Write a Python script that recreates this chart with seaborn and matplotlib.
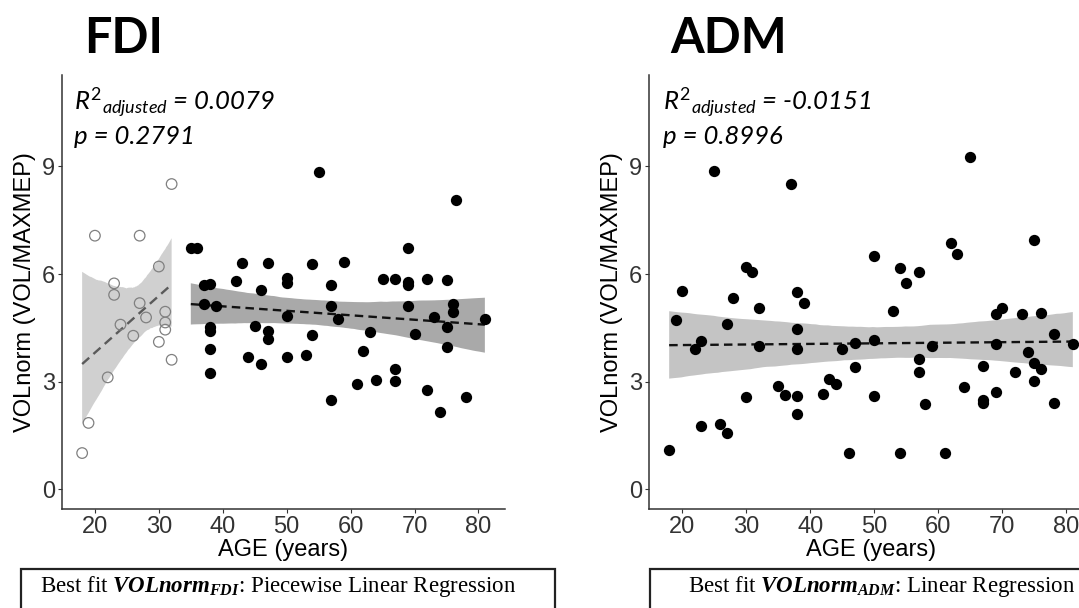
import numpy as np
import pandas as pd
import matplotlib
matplotlib.use("Agg")
import matplotlib.pyplot as plt
import seaborn as sns
from matplotlib.patches import Rectangle
from matplotlib.collections import PolyCollection

# ---------------- data ----------------
fdi_young_age = [20, 27, 32, 30, 23, 23, 27, 31, 28, 31, 31, 24, 26, 30, 32, 22, 19, 18]
fdi_young_vol = [7.07, 7.07, 8.51, 6.21, 5.74, 5.42, 5.19, 4.95, 4.79, 4.65, 4.45, 4.59,
                 4.28, 4.11, 3.61, 3.12, 1.85, 1.01]

fdi_old_age = [35, 36, 43, 47, 54, 59, 69, 55, 76.5,
               37, 38, 42, 50, 50, 46, 57, 65, 67, 69, 69, 72, 75,
               37, 39, 50, 57, 58, 69, 76, 76, 73, 81,
               75, 38, 38, 45, 47, 47, 54, 63, 70, 75,
               38, 44, 46, 50, 53, 62, 38, 67, 67, 64, 61, 72, 57, 78, 74]
fdi_old_vol = [6.73, 6.73, 6.31, 6.31, 6.29, 6.34, 6.73, 8.84, 8.07,
               5.70, 5.73, 5.81, 5.90, 5.75, 5.56, 5.69, 5.87, 5.85, 5.78, 5.69, 5.85, 5.83,
               5.17, 5.10, 4.84, 5.10, 4.75, 5.10, 5.16, 4.93, 4.81, 4.75,
               4.52, 4.52, 4.40, 4.54, 4.42, 4.20, 4.29, 4.39, 4.32, 3.98,
               3.92, 3.68, 3.49, 3.68, 3.75, 3.86, 3.23, 3.36, 3.02, 3.05, 2.94, 2.77, 2.50, 2.58, 2.15]

adm_age = [25, 37, 65, 62, 63, 75, 50, 30, 31, 54, 57, 55, 20, 28, 38, 39, 32, 53,
           69, 70, 73, 76, 19, 27, 38, 22, 23, 32, 38, 45, 47, 50, 59, 69, 78, 81,
           57, 57, 47, 67, 74, 75, 76, 72, 75, 43, 44, 35, 36, 38, 42, 30, 50, 64,
           69, 67, 67, 58, 78, 38, 23, 26, 27, 18, 46, 54, 61]
adm_vol = [8.87, 8.52, 9.26, 6.86, 6.55, 6.94, 6.50, 6.20, 6.05, 6.17, 6.05, 5.76, 5.52, 5.32,
           5.50, 5.20, 5.04, 4.97, 4.88, 5.06, 4.88, 4.91, 4.71, 4.60, 4.48, 3.91, 4.14, 3.99,
           3.90, 3.90, 4.07, 4.16, 3.99, 4.04, 4.34, 4.04, 3.63, 3.27, 3.40, 3.45, 3.82, 3.51,
           3.36, 3.26, 3.03, 3.07, 2.93, 2.88, 2.63, 2.61, 2.67, 2.57, 2.60, 2.86, 2.72, 2.49,
           2.40, 2.39, 2.40, 2.10, 1.77, 1.81, 1.56, 1.10, 1.01, 1.01, 1.01]

x_ticks = [20, 30, 40, 50, 60, 70, 80]
y_ticks = [0, 3, 6, 9]
panel_titles = ["FDI", "ADM"]
r2_values = ["0.0079", "-0.0151"]
p_values = ["0.2791", "0.8996"]
fit_subscripts = ["FDI", "ADM"]
fit_names = ["Piecewise Linear Regression", "Linear Regression"]
x_label = "AGE (years)"
y_label = "VOLnorm (VOL/MAXMEP)"

# ---------------- style ----------------
sns.set_style("white")
plt.rcParams["font.family"] = ["Liberation Sans", "DejaVu Sans"]
plt.rcParams["text.color"] = "black"
plt.rcParams["mathtext.fontset"] = "custom"
plt.rcParams["mathtext.rm"] = "Lato"
plt.rcParams["mathtext.it"] = "Lato:italic"
plt.rcParams["mathtext.bf"] = "Lato:bold"
plt.rcParams["mathtext.bfit"] = "Liberation Serif:bold:italic"

W, H = 1079, 608
fig = plt.figure(figsize=(W / 100, H / 100), dpi=100)
ax1 = fig.add_axes([62 / W, 1 - 509 / H, 443 / W, 434 / H])
ax2 = fig.add_axes([649 / W, 1 - 509 / H, 444 / W, 434 / H])

young = pd.DataFrame({"age": fdi_young_age, "vol": fdi_young_vol})
old = pd.DataFrame({"age": fdi_old_age, "vol": fdi_old_vol})
adm = pd.DataFrame({"age": adm_age, "vol": adm_vol})


def fit(ax, df, line_color, band_color, dashes):
    n_before = len(ax.collections)
    sns.regplot(data=df, x="age", y="vol", ax=ax, scatter=False, ci=95,
                n_boot=2000, seed=3, color=line_color,
                line_kws=dict(ls="--", lw=1.7, color=line_color, dashes=dashes, zorder=2))
    for c in ax.collections[n_before:]:
        if isinstance(c, PolyCollection):
            c.set_facecolor(band_color)
            c.set_alpha(1)
            c.set_edgecolor("none")
            c.set_zorder(1)


# FDI panel
fit(ax1, young, "#5a5a5a", "#d0d0d0", (4.0, 2.4))
fit(ax1, old, "#111111", "#a9a9a9", (3.6, 2.2))
sns.scatterplot(data=young, x="age", y="vol", ax=ax1, s=58, color="#808080",
                linewidth=0.9, zorder=3)
ax1.collections[-1].set_facecolor("none")
ax1.collections[-1].set_edgecolor("#808080")
sns.scatterplot(data=old, x="age", y="vol", ax=ax1, s=66, color="black",
                linewidth=0, zorder=3)

# ADM panel
fit(ax2, adm, "#111111", "#c4c4c4", (3.6, 2.2))
sns.scatterplot(data=adm, x="age", y="vol", ax=ax2, s=66, color="black",
                linewidth=0, zorder=3)

for i, ax in enumerate([ax1, ax2]):
    ax.set_xlim(14.85, 84.15)
    ax.set_ylim(-0.55, 11.55)
    ax.set_xticks(x_ticks)
    ax.set_yticks(y_ticks)
    for s in ["top", "right"]:
        ax.spines[s].set_visible(False)
    for s in ["left", "bottom"]:
        ax.spines[s].set_color("#333333")
        ax.spines[s].set_linewidth(1.1)
    ax.tick_params(length=3, width=0.8, color="#333333", labelsize=17,
                   labelcolor="#333333", pad=2, left=True, bottom=True)
    ax.set_xlabel(x_label, fontsize=17, color="black", labelpad=1)
    ax.set_ylabel(y_label, fontsize=17, color="black", labelpad=4)
    ax.grid(False)
    xt = 16.8 if i == 0 else 17.1
    ax.text(xt, 10.58, r"$R^{2}{}_{adjusted}$" + " = " + r2_values[i], fontsize=18.5,
            family="Lato", fontstyle="italic", va="baseline", ha="left", color="black")
    ax.text(xt, 9.64, "p = " + p_values[i], fontsize=18.5,
            family="Lato", fontstyle="italic", va="baseline", ha="left", color="black")

# panel titles
fig.text(84 / W, 1 - 53 / H, panel_titles[0], fontsize=35, family="Lato",
         fontweight="bold", va="baseline", ha="left", color="black")
fig.text(670 / W, 1 - 53 / H, panel_titles[1], fontsize=35, family="Lato",
         fontweight="bold", va="baseline", ha="left", color="black")

# bottom boxes
fig.add_artist(Rectangle((21 / W, -0.05), (555 - 21) / W, (H - 569) / H + 0.05,
                         transform=fig.transFigure, fill=False, ec="#222222", lw=1.6))
fig.add_artist(Rectangle((650 / W, -0.05), 0.5, (H - 569) / H + 0.05,
                         transform=fig.transFigure, fill=False, ec="#222222", lw=1.6))
for x0, sub, name in [(40, fit_subscripts[0], fit_names[0]), (688, fit_subscripts[1], fit_names[1])]:
    fig.text(x0 / W, 1 - 592 / H,
             "Best fit " + r"$\mathbfit{VOLnorm}_{\mathbfit{" + sub + "}}$" + ": " + name,
             fontsize=16.5, family="Liberation Serif", va="baseline", ha="left", color="black")

fig.savefig("out.png", dpi=100)
